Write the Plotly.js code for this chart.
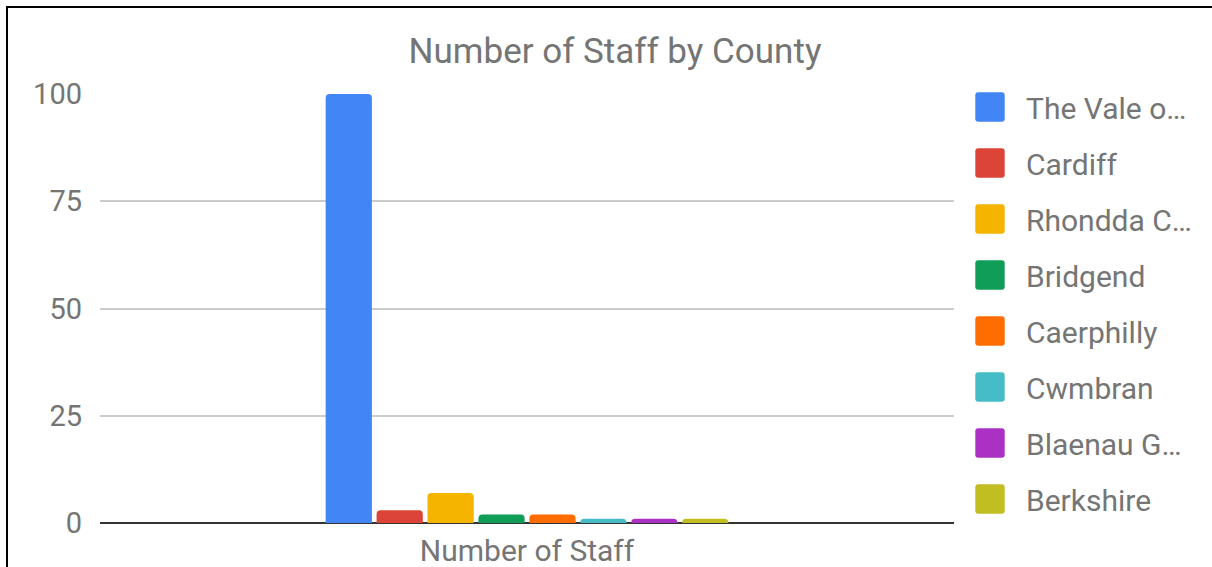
<!DOCTYPE html>
<html>
<head>
<meta charset="utf-8">
<script src="https://cdn.plot.ly/plotly-3.0.1.min.js"></script>
<style>
  html, body { margin: 0; padding: 0; background: #fff; }
  #wrap { position: relative; width: 1212px; height: 567px; overflow: hidden; }
  #chart { position: absolute; left: 0; top: 0; width: 1212px; height: 567px; }
  #frame { position: absolute; left: 6px; top: 6px; width: 1220px; height: 600px;
           border-left: 2px solid #000; border-top: 2px solid #000; pointer-events: none; }
</style>
</head>
<body>
<div id="wrap">
  <div id="chart"></div>
  <div id="frame"></div>
</div>
<script>
const categories = ["Number of Staff"];
const counties = ["The Vale o…", "Cardiff", "Rhondda C…", "Bridgend", "Caerphilly", "Cwmbran", "Blaenau G…", "Berkshire"];
const staffCounts = [100, 3, 7, 2, 2, 1, 1, 1];
const colors = ["#4285F4", "#DB4437", "#F4B400", "#0F9D58", "#FF6D01", "#46BDC6", "#AB30C4", "#C1BE22"];
const yTicks = [0, 25, 50, 75, 100];

const FONT = "Roboto, 'Noto Sans', sans-serif";
const GREY = "#757575";

const traces = counties.map((name, i) => ({
  type: "bar",
  name: name,
  x: categories,
  y: [staffCounts[i]],
  legendgroup: "g" + i,
  marker: { color: colors[i], cornerradius: 4, line: { width: 0 } },
  hoverinfo: "name+y"
}));

// plot area in the picture: y 94..523 ; margins kept small so the legend has room
const H = 567, MT = 20, MB = 20;
const plotH = H - MT - MB;
const yDomain = [(H - MB - 523) / plotH, (H - MB - 94) / plotH];

const layout = {
  width: 1212,
  height: H,
  margin: { l: 100, r: 257, t: MT, b: MB },
  paper_bgcolor: "#fff",
  plot_bgcolor: "#fff",
  font: { family: FONT, color: GREY },
  title: {
    text: "Number of Staff by County",
    font: { family: FONT, size: 35, color: GREY },
    x: 615 / 1212, xanchor: "center", xref: "container",
    y: 1 - 63 / 567, yanchor: "bottom", yref: "container"
  },
  barmode: "group",
  bargap: 0.523,
  bargroupgap: 0.092,
  showlegend: true,
  legend: {
    xref: "container", yref: "container",
    x: 954 / 1212, xanchor: "left",
    y: 1 - 81 / 567, yanchor: "top",
    maxheight: 520,
    font: { family: FONT, size: 30, color: GREY },
    tracegroupgap: 14,
    itemwidth: 62,
    bgcolor: "rgba(0,0,0,0)"
  },
  xaxis: {
    type: "category",
    tickvals: categories,
    ticktext: categories,
    showgrid: false,
    showline: false,
    ticks: "",
    ticklabelstandoff: 7,
    tickfont: { family: FONT, size: 30, color: GREY },
    fixedrange: true
  },
  yaxis: {
    domain: yDomain,
    range: [0, 100],
    tickvals: yTicks,
    ticktext: yTicks.map(String),
    showgrid: true,
    gridcolor: "#cccccc",
    gridwidth: 2,
    zeroline: true,
    zerolinecolor: "#333333",
    zerolinewidth: 2,
    showline: false,
    ticks: "",
    ticklabelstandoff: 17,
    tickfont: { family: FONT, size: 29, color: GREY },
    fixedrange: true
  }
};

const ROUNDED_SQUARE = "M-4.8,-6H4.8Q6,-6 6,-4.8V4.8Q6,6 4.8,6H-4.8Q-6,6 -6,4.8V-4.8Q-6,-6 -4.8,-6Z";

Plotly.newPlot("chart", traces, layout, { displayModeBar: false, staticPlot: true }).then(gd => {
  gd.querySelectorAll(".legendpoints path").forEach(p => {
    const t = p.getAttribute("transform") || "";
    p.setAttribute("d", ROUNDED_SQUARE);
    p.setAttribute("transform", t + " scale(2.45)");
  });
});
</script>
</body>
</html>
